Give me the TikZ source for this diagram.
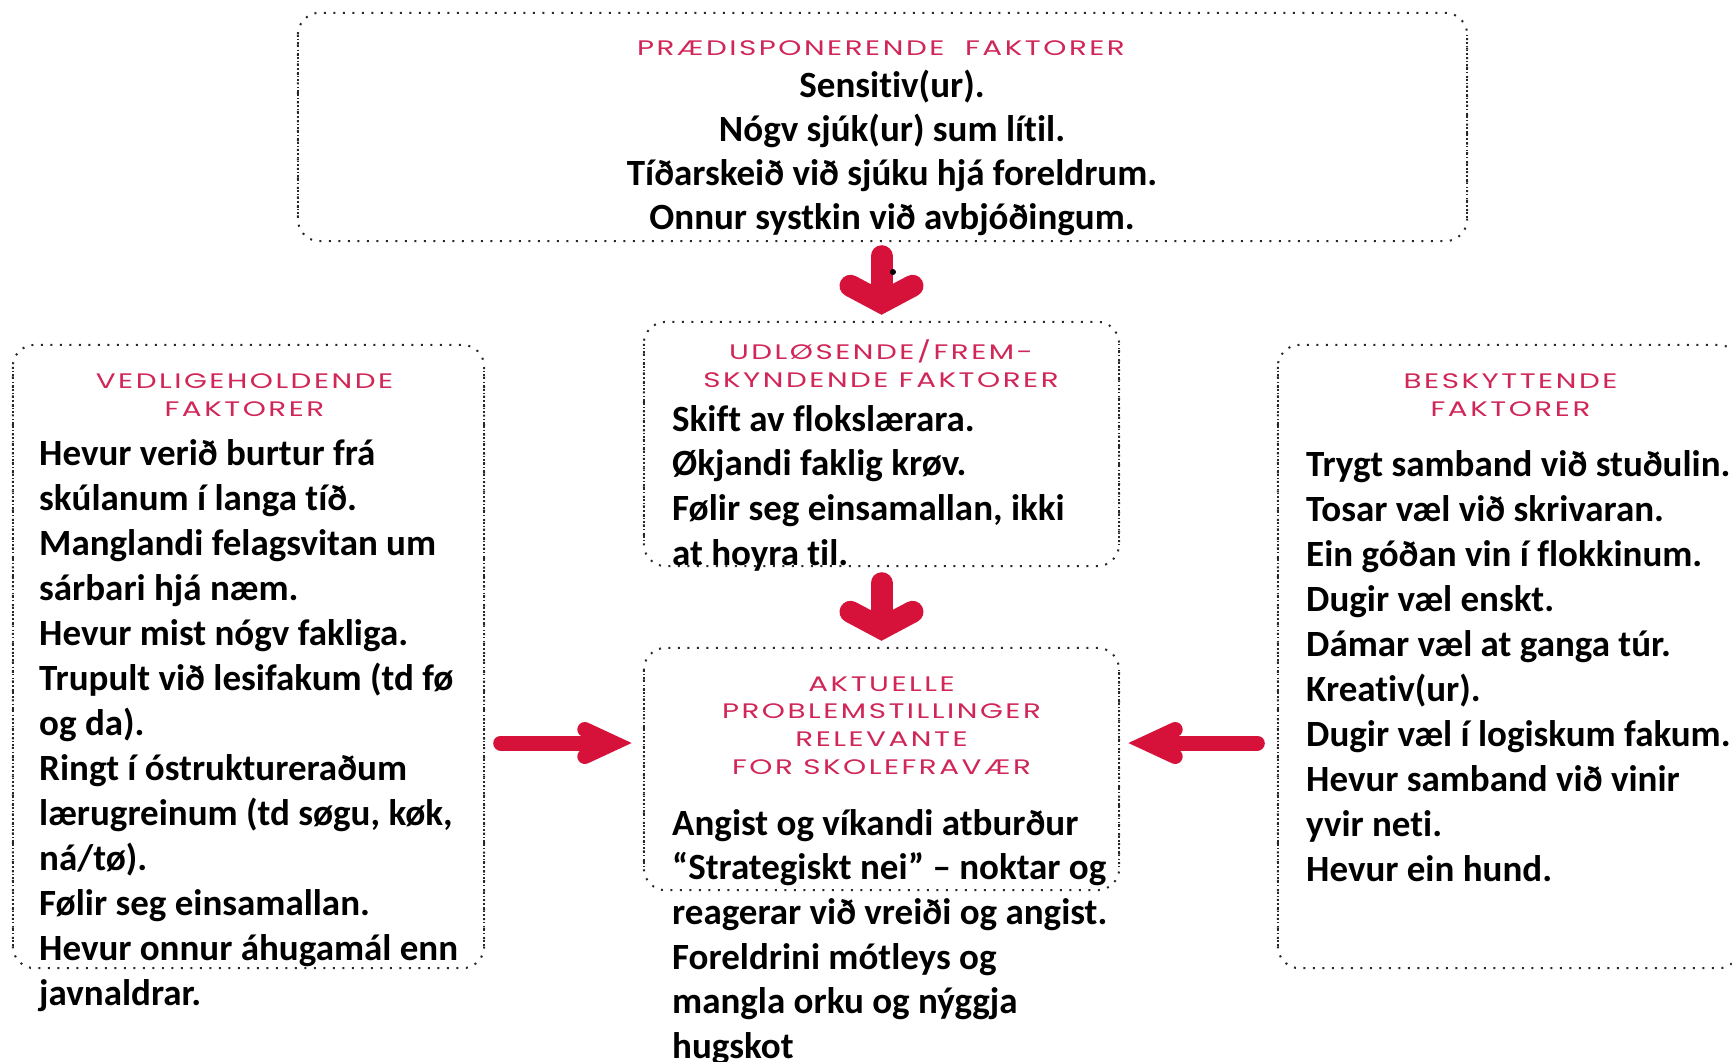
\documentclass[tikz,border=0pt]{standalone}
\usepackage{fontspec}
\setmainfont{Carlito}[Ligatures=NoCommon]
\newfontfamily\titlefont[LetterSpace=12,FakeStretch=1.4]{Poppins}
\usetikzlibrary{calc}
\definecolor{titlered}{RGB}{208,38,88}
\definecolor{arrowred}{RGB}{214,18,58}
\definecolor{dotgray}{RGB}{40,40,40}
\tikzset{
  box/.style={rectangle, rounded corners=22pt, inner sep=0pt, draw=none},
  hdot/.style={draw=dotgray, line width=2pt, dash pattern=on 2pt off 7.5pt, rounded corners=22pt},
  vdot/.style={draw=dotgray, line width=2pt, dash pattern=on 1.5pt off 2.2pt},
  titletxt/.style={font=\titlefont\fontsize{21}{28}\selectfont, text=titlered, align=center, inner sep=0pt, anchor=north},
  body/.style={font=\bfseries\fontsize{37}{44.6}\selectfont, align=left, inner sep=0pt, anchor=north west},
  bodyc/.style={font=\bfseries\fontsize{37}{44.3}\selectfont, align=center, inner sep=0pt, anchor=north},
  fatarrow/.style={draw=arrowred, line width=22pt, line cap=round, line join=miter},
  thinarrow/.style={draw=arrowred, line width=15pt, line cap=round, line join=miter},
}
\newcommand\dotbox[1]{%
  \draw[hdot] (#1.north west) rectangle (#1.south east);
  \draw[vdot] ($(#1.north west)+(0,22)$) -- ($(#1.south west)+(0,-22)$);
  \draw[vdot] ($(#1.north east)+(0,22)$) -- ($(#1.south east)+(0,-22)$);
}
\begin{document}
\begin{tikzpicture}[x=1pt,y=-1pt]
\fill[white] (0,0) rectangle (1732,1061);
\useasboundingbox (0,0) rectangle (1732,1061);

% boxes
\node[box, minimum width=1169pt, minimum height=228pt] (top) at (882.5,127) {};
\node[box, minimum width=475pt, minimum height=244pt] (udl) at (881.5,444) {};
\node[box, minimum width=475pt, minimum height=242pt] (akt) at (881.5,769) {};
\node[box, minimum width=471pt, minimum height=623pt] (left) at (248.5,656.5) {};
\node[box, minimum width=462pt, minimum height=623pt] (right) at (1509,656.5) {};
\dotbox{top}
\dotbox{udl}
\dotbox{akt}
\dotbox{left}
\dotbox{right}

% titles
\node[titletxt] (ttop) at (881,35.4) {\strut PRÆDISPONERENDE\ \ FAKTORER};
\node[titletxt] (tudl) at (881,339.4) {\strut UDLØSENDE/FREM-\\SKYNDENDE FAKTORER};
\node[titletxt] (tleft) at (244.5,368.4) {\strut VEDLIGEHOLDENDE\\FAKTORER};
\node[titletxt] (tright) at (1510.5,368.4) {\strut BESKYTTENDE\\FAKTORER};
\node[titletxt, font=\titlefont\fontsize{21}{27.7}\selectfont] (takt) at (881.5,671.6) {\strut AKTUELLE\\PROBLEMSTILLINGER\\RELEVANTE\\FOR SKOLEFRAVÆR};

% body texts
\node[bodyc] (btop) at (892,65.8) {\strut Sensitiv(ur).\\Nógv sjúk(ur) sum lítil.\\Tíðarskeið við sjúku hjá foreldrum.\\Onnur systkin við avbjóðingum.};
\node[body] (budl) at (672,399.8) {\strut Skift av flokslærara.\\Økjandi faklig krøv.\\Følir seg einsamallan, ikki\\at hoyra til.};
\node[body] (bakt) at (672,803.8) {\strut Angist og víkandi atburður\\“Strategiskt nei” – noktar og\\reagerar við vreiði og angist.\\Foreldrini mótleys og\\mangla orku og nýggja\\hugskot};
\node[body, font=\bfseries\fontsize{37}{45}\selectfont] (bleft) at (39,433.5) {\strut Hevur verið burtur frá\\skúlanum í langa tíð.\\Manglandi felagsvitan um\\sárbari hjá næm.\\Hevur mist nógv fakliga.\\Trupult við lesifakum (td fø\\og da).\\Ringt í óstruktureraðum\\lærugreinum (td søgu, køk,\\ná/tø).\\Følir seg einsamallan.\\Hevur onnur áhugamál enn\\javnaldrar.};
\node[body, font=\bfseries\fontsize{37}{45}\selectfont] (bright) at (1306,445) {\strut Trygt samband við stuðulin.\\Tosar væl við skrivaran.\\Ein góðan vin í flokkinum.\\Dugir væl enskt.\\Dámar væl at ganga túr.\\Kreativ(ur).\\Dugir væl í logiskum fakum.\\Hevur samband við vinir\\yvir neti.\\Hevur ein hund.};

% arrows
\coordinate (v1) at ($(udl.north)+(0,-19.5)$);
\draw[fatarrow] ($(top.south -| udl.north)+(0,15)$) -- ($(v1)+(0,-4)$);
\draw[fatarrow] ($(v1)+(-31,-16.5)$) -- (v1) -- ($(v1)+(31,-16.5)$);
\fill[black] (893,272) circle (3pt);

\coordinate (v2) at ($(akt.north)+(0,-19.5)$);
\draw[fatarrow] ($(udl.south)+(0,17)$) -- ($(v2)+(0,-4)$);
\draw[fatarrow] ($(v2)+(-31,-16.5)$) -- (v2) -- ($(v2)+(31,-16.5)$);

\coordinate (v3) at ($(akt.west)+(-30,-26)$);
\draw[thinarrow] ($(v3 -| left.east)+(16.5,0)$) -- ($(v3)+(-4,0)$);
\draw[thinarrow] ($(v3)+(-29,-13.5)$) -- (v3) -- ($(v3)+(-29,13.5)$);

\coordinate (v4) at ($(akt.east)+(27,-26)$);
\draw[thinarrow] ($(v4 -| right.west)+(-20.5,0)$) -- ($(v4)+(4,0)$);
\draw[thinarrow] ($(v4)+(29,-13.5)$) -- (v4) -- ($(v4)+(29,13.5)$);
\end{tikzpicture}
\end{document}
